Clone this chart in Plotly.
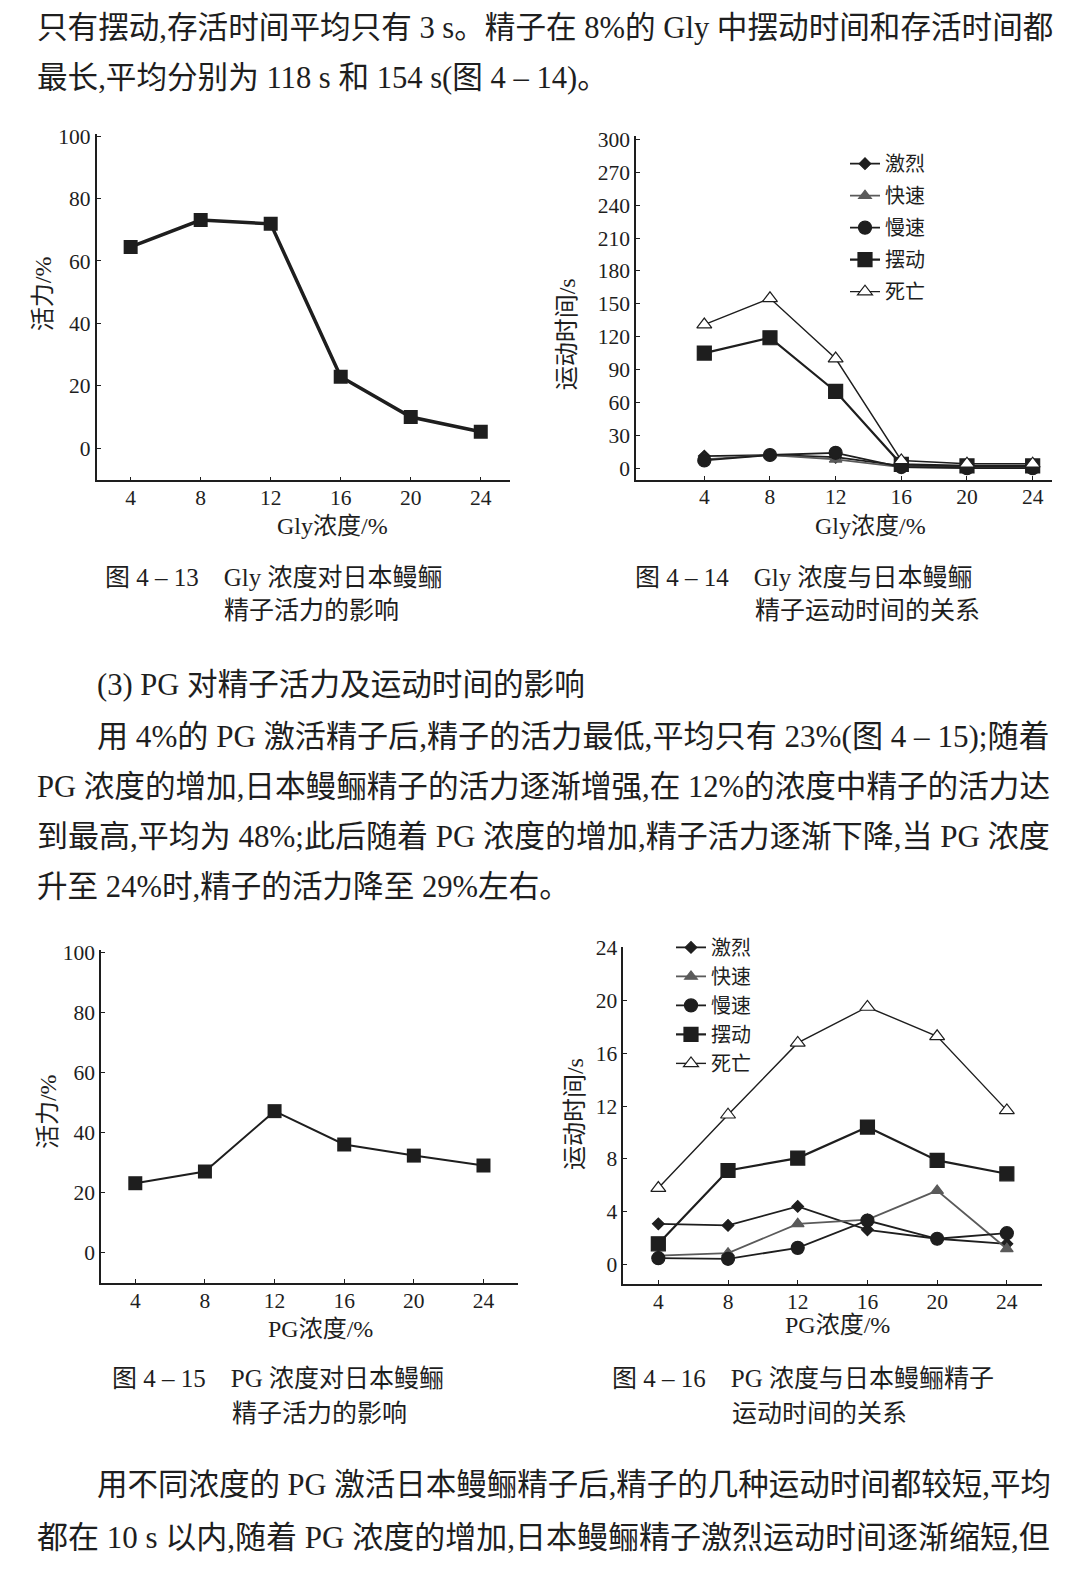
import plotly.graph_objects as go

W, H = 1080, 1569

# ---------------- data ----------------
conc = [4, 8, 12, 16, 20, 24]
x_ticks = [4, 8, 12, 16, 20, 24]

gly_vitality = [64.5, 73.1, 71.9, 22.9, 10.0, 5.3]

gly_jilie = [11, 12, 10, 2, 1, 1]
gly_kuaisu = [8, 12, 8, 1, 0.5, 0.5]
gly_mansu = [7, 12, 14, 1, 0, 0]
gly_baidong = [105, 119, 70, 3.5, 2, 2]
gly_siwang = [131, 155, 100, 7, 4, 4]

pg_vitality = [23.2, 27.1, 47.2, 36.1, 32.4, 29.1]

pg_jilie = [3.08, 2.96, 4.4, 2.63, 1.95, 1.57]
pg_kuaisu = [0.68, 0.86, 3.08, 3.4, 5.6, 1.19]
pg_mansu = [0.48, 0.43, 1.26, 3.33, 1.95, 2.37]
pg_baidong = [1.57, 7.12, 8.06, 10.41, 7.88, 6.87]
pg_siwang = [5.79, 11.34, 16.78, 19.5, 17.28, 11.67]

series_names = ["激烈", "快速", "慢速", "摆动", "死亡"]

body_top = [
    "只有摆动,存活时间平均只有 3 s。精子在 8%的 Gly 中摆动时间和存活时间都",
    "最长,平均分别为 118 s 和 154 s(图 4 – 14)。",
]
captions = [
    "图 4 – 13　Gly 浓度对日本鳗鲡", "精子活力的影响",
    "图 4 – 14　Gly 浓度与日本鳗鲡", "精子运动时间的关系",
    "图 4 – 15　PG 浓度对日本鳗鲡", "精子活力的影响",
    "图 4 – 16　PG 浓度与日本鳗鲡精子", "运动时间的关系",
]
body_mid = [
    "(3) PG 对精子活力及运动时间的影响",
    "用 4%的 PG 激活精子后,精子的活力最低,平均只有 23%(图 4 – 15);随着",
    "PG 浓度的增加,日本鳗鲡精子的活力逐渐增强,在 12%的浓度中精子的活力达",
    "到最高,平均为 48%;此后随着 PG 浓度的增加,精子活力逐渐下降,当 PG 浓度",
    "升至 24%时,精子的活力降至 29%左右。",
]
body_bottom = [
    "用不同浓度的 PG 激活日本鳗鲡精子后,精子的几种运动时间都较短,平均",
    "都在 10 s 以内,随着 PG 浓度的增加,日本鳗鲡精子激烈运动时间逐渐缩短,但",
]
axis_titles = ["活力/%", "Gly浓度/%", "运动时间/s", "Gly浓度/%",
               "活力/%", "PG浓度/%", "运动时间/s", "PG浓度/%"]

# ---------------- styling ----------------
INK = "#1e1e1e"
FONT = "Liberation Serif, Noto Sans CJK SC, serif"


def fx(px):
    return px / W


def fy(py):
    # small empirical correction for the page capture
    return 1 - ((py - 10) / 0.9914) / H


styles = {
    "激烈": dict(symbol="diamond", size=9, color=INK, line_color=INK, lw=1.8),
    "快速": dict(symbol="triangle-up", size=11, color="#5a5a5a", line_color="#5a5a5a", lw=1.8),
    "慢速": dict(symbol="circle", size=13, color=INK, line_color=INK, lw=1.8),
    "摆动": dict(symbol="square", size=14, color=INK, line_color=INK, lw=2.2),
    "死亡": dict(symbol="triangle-up", size=13, color="white", line_color=INK, lw=1.4),
}

fig = go.Figure()

# chart 1
fig.add_trace(go.Scatter(x=conc, y=gly_vitality, mode="lines+markers",
                         line=dict(color=INK, width=3.5),
                         marker=dict(symbol="square", size=14, color=INK),
                         showlegend=False, xaxis="x", yaxis="y"))
# chart 3
fig.add_trace(go.Scatter(x=conc, y=pg_vitality, mode="lines+markers",
                         line=dict(color=INK, width=2),
                         marker=dict(symbol="square", size=14, color=INK),
                         showlegend=False, xaxis="x3", yaxis="y3"))

gly_series = [gly_jilie, gly_kuaisu, gly_mansu, gly_baidong, gly_siwang]
pg_series = [pg_jilie, pg_kuaisu, pg_mansu, pg_baidong, pg_siwang]

for name, vals in zip(series_names, gly_series):
    s = styles[name]
    fig.add_trace(go.Scatter(
        x=conc, y=vals, mode="lines+markers", name=name, legendgroup="g" + name,
        line=dict(color=s["line_color"], width=s["lw"]),
        marker=dict(symbol=s["symbol"], size=s["size"], color=s["color"],
                    line=dict(color=s["line_color"], width=1.2)),
        xaxis="x2", yaxis="y2", legend="legend"))

for name, vals in zip(series_names, pg_series):
    s = styles[name]
    fig.add_trace(go.Scatter(
        x=conc, y=vals, mode="lines+markers", name=name, legendgroup="p" + name,
        line=dict(color=s["line_color"], width=s["lw"]),
        marker=dict(symbol=s["symbol"], size=s["size"], color=s["color"],
                    line=dict(color=s["line_color"], width=1.2)),
        xaxis="x4", yaxis="y4", legend="legend2"))

axis_common = dict(showline=True, linecolor=INK, linewidth=1.6, ticks="inside",
                   ticklen=4, tickwidth=1.2, tickcolor=INK, showgrid=False,
                   zeroline=False, tickfont=dict(family=FONT, size=21.5, color=INK))

# domains in px: (x0, x1, ytop, ybottom) and ranges
charts = [
    dict(dom=(96.7, 510, 133, 479), xr=[2.06, 25.67], yr=[-10.3, 100.64], dt=20, ys=""),
    dict(dom=(636, 1051.7, 135, 478.3), xr=[-0.16, 25.16], yr=[-10.6, 303], dt=30, ys="2"),
    dict(dom=(101, 518.3, 948.3, 1281), xr=[2.03, 26.0], yr=[-10.1, 100.8], dt=20, ys="3"),
    dict(dom=(623.3, 1041.7, 945, 1281.7), xr=[1.99, 26.0], yr=[-1.47, 24.05], dt=4, ys="4"),
]

layout_axes = {}
for c in charts:
    x0, x1, yt, yb = c["dom"]
    s = c["ys"]
    layout_axes["xaxis" + s] = dict(axis_common, domain=[fx(x0), fx(x1)], range=c["xr"],
                                    tickvals=x_ticks, anchor="y" + s, ticklabelstandoff=-3)
    layout_axes["yaxis" + s] = dict(axis_common, domain=[fy(yb), fy(yt)], range=c["yr"],
                                    dtick=c["dt"], tick0=0, anchor="x" + s)

annotations = []


def text(t, x, y, size, xanchor="left", angle=0):
    annotations.append(dict(text=t, x=fx(x), y=fy(y), xref="paper", yref="paper",
                            xanchor=xanchor, yanchor="middle", showarrow=False,
                            textangle=angle, font=dict(family=FONT, size=size, color=INK)))


# body text
text(body_top[0], 35, 27, 30.6)
text(body_top[1], 35, 77, 30.6)
text(body_mid[0], 95, 683, 30.6)
text(body_mid[1], 95, 735, 31.1)
text(body_mid[2], 35, 785, 30.6)
text(body_mid[3], 35, 835, 31.0)
text(body_mid[4], 35, 885, 30.6)
text(body_bottom[0], 95, 1483, 30.5)
text(body_bottom[1], 35, 1535, 31.0)

# captions
CS = 25
cap_pos = [(103, 576), (222, 609), (633, 576), (753, 609),
           (110, 1376), (230, 1411), (610, 1376), (730, 1411)]
for t, (x, y) in zip(captions, cap_pos):
    text(t, x, y, CS)

# axis titles
AS = 24
title_pos = [(43, 293, -90), (332, 525, 0), (567, 333, -90), (870, 525, 0),
             (48, 1110, -90), (320, 1327, 0), (575, 1112, -90), (837, 1323, 0)]
for t, (x, y, a) in zip(axis_titles, title_pos):
    text(t, x, y, AS, xanchor="center", angle=a)

fig.update_layout(
    width=W, height=H, margin=dict(l=0, r=0, t=0, b=0),
    paper_bgcolor="white", plot_bgcolor="white",
    annotations=annotations,
    legend=dict(x=fx(845), y=fy(143), xanchor="left", yanchor="top",
                font=dict(family=FONT, size=20, color=INK), bgcolor="rgba(0,0,0,0)",
                tracegroupgap=3, itemwidth=30),
    legend2=dict(x=fx(671), y=fy(926), xanchor="left", yanchor="top",
                 font=dict(family=FONT, size=20, color=INK), bgcolor="rgba(0,0,0,0)",
                 tracegroupgap=0, itemwidth=30),
    **layout_axes,
)

fig.write_html("out.html", config={"displayModeBar": False},
               post_script="document.body.style.margin='0';document.body.style.overflow='hidden';")
